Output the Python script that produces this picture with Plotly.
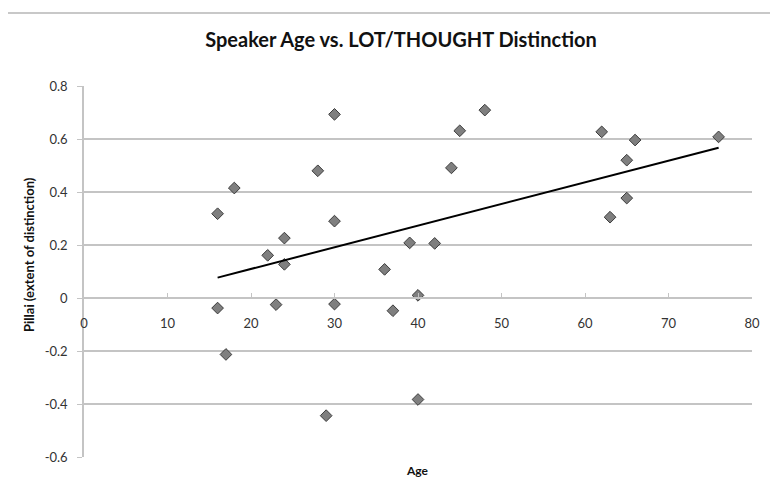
import plotly.graph_objects as go

# ---- data ----
ages = [16, 18, 22, 24, 24, 28, 30, 30, 48, 45, 44, 39, 42, 36, 40,
        62, 66, 65, 65, 63, 76, 16, 23, 30, 37, 17, 29, 40]
pillai = [0.318, 0.415, 0.161, 0.226, 0.127, 0.480, 0.693, 0.290, 0.709,
          0.631, 0.491, 0.208, 0.206, 0.108, 0.010, 0.627, 0.596, 0.520,
          0.377, 0.305, 0.608, -0.038, -0.025, -0.023, -0.048, -0.213,
          -0.444, -0.383]

# linear trendline endpoints as drawn in the reference
trend_x = [16, 76]
trend_y = [0.077, 0.567]

x_ticks = [0, 10, 20, 30, 40, 50, 60, 70, 80]
x_tick_labels = ["0", "10", "20", "30", "40", "50", "60", "70", "80"]
y_ticks = [-0.6, -0.4, -0.2, 0, 0.2, 0.4, 0.6, 0.8]
y_tick_labels = ["-0.6", "-0.4", "-0.2", "0", "0.2", "0.4", "0.6", "0.8"]

title_text = "Speaker Age vs. LOT/THOUGHT Distinction"
x_title = "Age"
y_title = "Pillai (extent of distinction)"

# the page body has an 8px default margin; lay out in screen pixels minus it
OFF = 8
W, H = 778 - OFF, 485 - OFF
ML, MT = 84 - OFF, 86 - OFF
PW, PH = 752 - 84, 457 - 86
MR, MB = W - ML - PW, H - MT - PH


def px_x(p):
    return (p - OFF - ML) / PW


def px_y(p):
    return 1 - (p - OFF - MT) / PH


FONT = "Lato, 'Open Sans', sans-serif"
GRID = "#c4c4c4"
TXT = "#333333"

fig = go.Figure()
fig.add_trace(go.Scatter(
    x=ages, y=pillai, mode="markers",
    marker=dict(symbol="diamond", size=9, color="#7f7f7f",
                line=dict(color="#3c3c3c", width=1)),
    showlegend=False, hoverinfo="x+y"))
fig.add_trace(go.Scatter(
    x=trend_x, y=trend_y, mode="lines",
    line=dict(color="#000000", width=2),
    showlegend=False, hoverinfo="skip"))

y0frac = (0 - y_ticks[0]) / (y_ticks[-1] - y_ticks[0])

fig.update_layout(
    width=W, height=H,
    margin=dict(l=ML, r=MR, t=MT, b=MB, autoexpand=False),
    paper_bgcolor="white", plot_bgcolor="white",
    font=dict(family=FONT, size=13, color=TXT),
    xaxis=dict(range=[x_ticks[0], x_ticks[-1]], tickvals=x_ticks,
               ticktext=x_tick_labels, showgrid=False, zeroline=False,
               showline=True, linecolor=GRID, linewidth=1.5,
               anchor="free", position=y0frac,
               ticks="inside", ticklen=4, tickcolor=GRID,
               ticklabelstandoff=14,
               tickfont=dict(family=FONT, size=13, color=TXT)),
    yaxis=dict(range=[y_ticks[0], y_ticks[-1]], tickvals=y_ticks,
               ticktext=y_tick_labels, showgrid=True, gridcolor=GRID,
               gridwidth=1.5, zeroline=False, showline=True,
               linecolor=GRID, linewidth=1.5, ticks="outside", ticklen=5,
               tickcolor=GRID, ticklabelstandoff=7,
               tickfont=dict(family=FONT, size=13, color=TXT)),
    title=dict(text="<b>" + title_text + "</b>",
               x=(401 - OFF) / W, xanchor="center",
               y=1 - (40 - OFF) / H, yanchor="middle",
               xref="container", yref="container",
               font=dict(family=FONT, size=20, color="#111111")),
    shapes=[dict(type="rect", xref="paper", yref="paper",
                 x0=px_x(7), x1=px_x(800), y0=px_y(520), y1=px_y(13),
                 line=dict(color="#c8c8c8", width=2), layer="below")],
    annotations=[
        dict(text="<b>" + x_title + "</b>", xref="paper", yref="paper",
             x=px_x(417), y=px_y(470), showarrow=False,
             xanchor="center", yanchor="middle",
             font=dict(family=FONT, size=12, color="#111111")),
        dict(text="<b>" + y_title + "</b>", xref="paper", yref="paper",
             x=px_x(29), y=px_y(255), showarrow=False, textangle=-90,
             xanchor="center", yanchor="middle",
             font=dict(family=FONT, size=13, color="#111111")),
    ],
)

fig.write_html("out.html")
